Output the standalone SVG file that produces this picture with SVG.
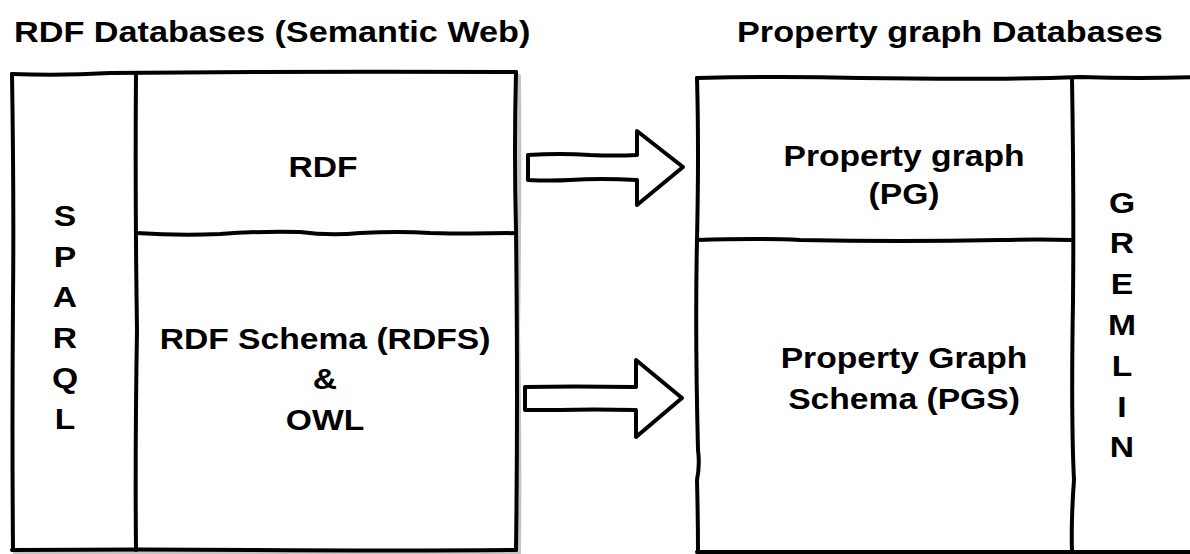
<svg xmlns="http://www.w3.org/2000/svg" width="1190" height="554" viewBox="0 0 1190 554">
<style>
.ln{fill:none;stroke:#000;stroke-width:4;stroke-linecap:round;stroke-linejoin:round}
.sh{fill:none;stroke:#c4c4c4;stroke-width:4;stroke-linecap:round;stroke-linejoin:round}
.bg{fill:#fff;stroke:none}
.ar{fill:#fff;stroke:#000;stroke-width:4;stroke-linejoin:round}
.t{font-family:"Liberation Sans",Arial,Helvetica,sans-serif;font-weight:bold;font-size:29px;fill:#000;text-anchor:middle}
.tl{font-family:"Liberation Sans",Arial,Helvetica,sans-serif;font-weight:bold;font-size:29px;fill:#000}
</style>
<rect width="1190" height="554" fill="#fff"/>
<g id="title-rdf"><text class="tl" transform="translate(14,42) scale(1.18,1)">RDF Databases (Semantic Web)</text></g>
<g id="title-pg"><text class="tl" transform="translate(737,42) scale(1.18,1)">Property graph Databases</text></g>

<g id="rdf-databases">
<path class="sh" d="M519 76 Q520 200 518 330 Q520 450 519 553 L15 553"/>
<path class="bg" d="M12 74 L516 72 L516 550 L12 550 Z"/>
<path class="ln" d="M12 74 Q60 76 110 73 Q300 71 516 72"/>
<path class="ln" d="M516 72 Q514 150 516 230 Q518 400 516 550"/>
<path class="ln" d="M12 550 Q150 549 250 550 Q400 551 516 550"/>
<path class="ln" d="M12 74 Q14 200 13 300 Q12 430 13 550"/>
<g id="sparql">
<path class="ln" d="M136 73 Q135 200 137 330 Q135 450 136 550"/>
<text class="t" transform="translate(65,226) scale(1.16,1)">S</text>
<text class="t" transform="translate(65,267) scale(1.16,1)">P</text>
<text class="t" transform="translate(65,307) scale(1.16,1)">A</text>
<text class="t" transform="translate(65,348) scale(1.16,1)">R</text>
<text class="t" transform="translate(65,388) scale(1.16,1)">Q</text>
<text class="t" transform="translate(65,429) scale(1.16,1)">L</text>
</g>
<g id="rdf">
<path class="ln" d="M136 233 Q180 236 220 234 Q260 231 300 232 Q330 236 360 233 Q400 231 430 233 Q470 234 516 233"/>
<text class="t" transform="translate(323,177) scale(1.16,1)">RDF</text>
</g>
<g id="rdfs-owl">
<text class="t" transform="translate(325,349) scale(1.16,1)">RDF Schema (RDFS)</text>
<text class="t" transform="translate(325,389) scale(1.16,1)">&amp;</text>
<text class="t" transform="translate(325,430) scale(1.16,1)">OWL</text>
</g>
</g>

<g id="pg-databases">
<path class="sh" d="M700 555 L1195 555"/>
<path class="bg" d="M697 78 L1196 76 L1196 552 L697 552 Z"/>
<path class="ln" d="M697 78 Q780 76 860 78 Q1000 80 1080 77 Q1140 79 1196 77"/>
<path class="ln" d="M697 78 Q699 150 697 240 Q695 330 698 450 Q700 465 697 480 Q698 520 698 552"/>
<path class="ln" d="M697 552 Q900 551 1196 552"/>
<g id="gremlin">
<path class="ln" d="M1072 78 Q1074 200 1073 300 Q1071 420 1074 480 Q1071 520 1072 552"/>
<text class="t" transform="translate(1122,213) scale(1.16,1)">G</text>
<text class="t" transform="translate(1122,253) scale(1.16,1)">R</text>
<text class="t" transform="translate(1122,294) scale(1.16,1)">E</text>
<text class="t" transform="translate(1122,335) scale(1.16,1)">M</text>
<text class="t" transform="translate(1122,376) scale(1.16,1)">L</text>
<text class="t" transform="translate(1122,417) scale(1.16,1)">I</text>
<text class="t" transform="translate(1122,457) scale(1.16,1)">N</text>
</g>
<g id="pg">
<path class="ln" d="M697 240 Q760 238 800 240 Q900 242 1000 240 Q1040 239 1072 240"/>
<text class="t" transform="translate(904,166) scale(1.16,1)">Property graph</text>
<text class="t" transform="translate(904,204) scale(1.16,1)">(PG)</text>
</g>
<g id="pgs">
<text class="t" transform="translate(904,368) scale(1.16,1)">Property Graph</text>
<text class="t" transform="translate(904,409) scale(1.16,1)">Schema (PGS)</text>
</g>
</g>

<g id="connectors">
<path class="ar" d="M528 155 Q560 153 590 155 Q615 156 637 155 L637 131 L683 167 L637 205 L637 180 Q600 178 570 180 Q550 181 528 180 Z"/>
<path class="ar" d="M525 387 Q570 386 636 387 L636 360 L682 398 L636 437 L636 410 Q590 409 560 410 Q540 410 525 410 Z"/>
</g>
</svg>
